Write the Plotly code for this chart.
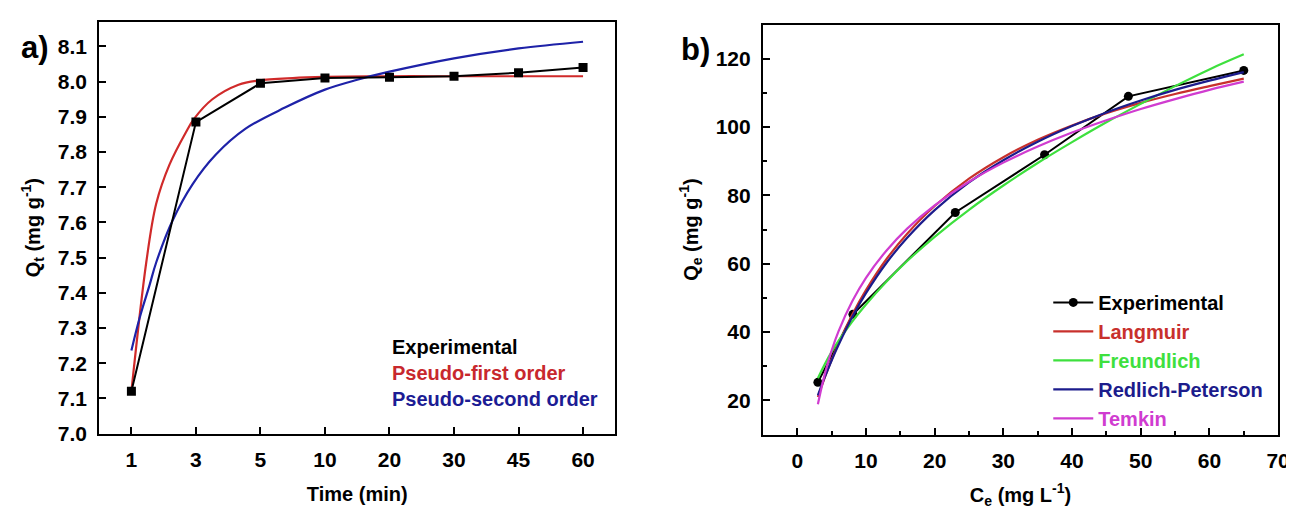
import plotly.graph_objects as go

# ---------------- Panel a) kinetics ----------------
time_labels = ["1", "3", "5", "10", "20", "30", "45", "60"]
time_pos = [0, 1, 2, 3, 4, 5, 6, 7]
exp_qt = [7.12, 7.885, 7.995, 8.01, 8.012, 8.015, 8.025, 8.04]

pfo_pos = [0, 0.23, 0.384, 0.59, 0.845, 0.97, 1.25, 1.66, 1.97, 2.5, 3.0, 4.0, 5.0, 6.0, 7.0]
pfo_qt = [7.12, 7.486, 7.653, 7.764, 7.856, 7.894, 7.949, 7.991, 8.003, 8.010, 8.013, 8.015, 8.015, 8.015, 8.015]

pso_pos = [0, 0.128, 0.28, 0.384, 0.64, 0.947, 1.306, 1.77, 2.38, 3.0, 3.5, 4.0, 5.0, 6.0, 7.0]
pso_qt = [7.236, 7.329, 7.421, 7.486, 7.606, 7.708, 7.792, 7.866, 7.926, 7.977, 8.005, 8.028, 8.066, 8.094, 8.113]

# ---------------- Panel b) isotherms ----------------
exp_ce = [3.0, 8.1, 23.0, 36.0, 48.2, 65.0]
exp_qe = [25.3, 45.2, 75.0, 91.9, 109.0, 116.6]

fit_ce = [3, 4, 5, 6, 8, 10, 13, 16, 20, 25, 30, 35, 40, 45, 50, 55, 60, 65]
langmuir_qe = [21.0, 26.7, 31.9, 36.7, 45.1, 52.3, 61.4, 68.8, 76.9, 84.9, 91.2, 96.3, 100.5, 104.1, 107.1, 109.7, 112.0, 114.2]
freundlich_qe = [26.5, 30.6, 34.2, 37.4, 43.1, 48.1, 54.8, 60.8, 67.9, 75.8, 82.9, 89.5, 95.6, 101.4, 106.8, 112.0, 116.9, 121.3]
redlich_qe = [21.5, 26.8, 31.7, 36.2, 44.4, 51.4, 60.3, 67.6, 75.7, 83.8, 90.3, 95.7, 100.3, 104.3, 107.8, 110.9, 113.6, 116.1]
temkin_qe = [18.9, 27.7, 34.6, 40.2, 49.0, 55.9, 63.9, 70.3, 77.1, 84.0, 89.6, 94.3, 98.4, 102.0, 105.3, 108.2, 110.9, 113.3]

FONT = "Liberation Sans, Arial, sans-serif"
RED_A = "#d02a2a"
BLUE_A = "#1e22a8"
C_LANG = "#c8302c"
C_FREU = "#3ee03e"
C_RP = "#1c1c8c"
C_TEM = "#d03cd0"

fig = go.Figure()

# panel a traces
fig.add_trace(go.Scatter(x=pfo_pos, y=pfo_qt, mode="lines", line=dict(color=RED_A, width=2.2, shape="spline"),
                         showlegend=False, xaxis="x", yaxis="y"))
fig.add_trace(go.Scatter(x=pso_pos, y=pso_qt, mode="lines", line=dict(color=BLUE_A, width=2.2, shape="spline"),
                         showlegend=False, xaxis="x", yaxis="y"))
fig.add_trace(go.Scatter(x=time_pos, y=exp_qt, mode="lines+markers", line=dict(color="black", width=2),
                         marker=dict(symbol="square", size=9, color="black"),
                         showlegend=False, xaxis="x", yaxis="y"))

# panel b traces
fig.add_trace(go.Scatter(x=exp_ce, y=exp_qe, mode="lines+markers", line=dict(color="black", width=2),
                         marker=dict(symbol="circle", size=9, color="black"),
                         name="<span style='color:black'>Experimental</span>", xaxis="x2", yaxis="y2"))
fig.add_trace(go.Scatter(x=fit_ce, y=langmuir_qe, mode="lines", line=dict(color=C_LANG, width=2.2, shape="spline"),
                         name=f"<span style='color:{C_LANG}'>Langmuir</span>", xaxis="x2", yaxis="y2"))
fig.add_trace(go.Scatter(x=fit_ce, y=freundlich_qe, mode="lines", line=dict(color=C_FREU, width=2.2, shape="spline"),
                         name=f"<span style='color:{C_FREU}'>Freundlich</span>", xaxis="x2", yaxis="y2"))
fig.add_trace(go.Scatter(x=fit_ce, y=redlich_qe, mode="lines", line=dict(color=C_RP, width=2.2, shape="spline"),
                         name=f"<span style='color:{C_RP}'>Redlich-Peterson</span>", xaxis="x2", yaxis="y2"))
fig.add_trace(go.Scatter(x=fit_ce, y=temkin_qe, mode="lines", line=dict(color=C_TEM, width=2.2, shape="spline"),
                         name=f"<span style='color:{C_TEM}'>Temkin</span>", xaxis="x2", yaxis="y2"))

W, H = 1294, 509
axis_common = dict(showline=True, linecolor="black", linewidth=2, mirror=True, ticks="inside",
                   tickcolor="black", tickwidth=2, ticklen=7, showgrid=False, zeroline=False,
                   tickfont=dict(family=FONT, size=21, color="black", weight="bold"),
                   ticklabelstandoff=6)
title_font = dict(family=FONT, size=20, color="black", weight="bold")

fig.update_layout(
    width=W, height=H,
    margin=dict(l=0, r=0, t=0, b=0),
    paper_bgcolor="white", plot_bgcolor="white",
    xaxis=dict(domain=[92 / W, 613 / W], range=[-0.5, 7.5], tickvals=time_pos, ticktext=time_labels,
               title=dict(text="Time (min)", font=title_font, standoff=17), anchor="y", **axis_common),
    yaxis=dict(domain=[1 - 435 / H, 1 - 14 / H], range=[7.0, 8.17], dtick=0.1, tickformat=".1f",
               title=dict(text="Q<sub>t</sub> (mg g<sup>-1</sup>)", font=title_font, standoff=12), anchor="x",
               **axis_common),
    xaxis2=dict(domain=[762 / W, 1282 / W], range=[-5, 70], dtick=10,
                minor=dict(dtick=5, ticks="inside", ticklen=4, tickcolor="black", tickwidth=2),
                title=dict(text="C<sub>e</sub> (mg L<sup>-1</sup>)", font=title_font, standoff=17), anchor="y2",
                **axis_common),
    yaxis2=dict(domain=[1 - 436 / H, 1 - 17 / H], range=[10, 130], dtick=20,
                minor=dict(dtick=10, ticks="inside", ticklen=4, tickcolor="black", tickwidth=2),
                title=dict(text="Q<sub>e</sub> (mg g<sup>-1</sup>)", font=title_font, standoff=12), anchor="x2",
                **axis_common),
    legend=dict(x=1050 / W, y=1 - 281 / H, xanchor="left", yanchor="top", bgcolor="rgba(0,0,0,0)",
                font=dict(family=FONT, size=20, color="black", weight="bold"), tracegroupgap=0,
                itemwidth=40),
    showlegend=True,
)

ann_font = dict(family=FONT, size=20, weight="bold")
fig.add_annotation(x=386 / W, y=1 - 346 / H, xref="paper", yref="paper", xanchor="left", yanchor="middle",
                   text="Experimental", showarrow=False, font=dict(color="black", **ann_font))
fig.add_annotation(x=386 / W, y=1 - 373 / H, xref="paper", yref="paper", xanchor="left", yanchor="middle",
                   text="Pseudo-first order", showarrow=False, font=dict(color="#c8282d", **ann_font))
fig.add_annotation(x=386 / W, y=1 - 400 / H, xref="paper", yref="paper", xanchor="left", yanchor="middle",
                   text="Pseudo-second order", showarrow=False, font=dict(color="#1c1c94", **ann_font))

fig.add_annotation(x=27 / W, y=1 - 40 / H, xref="paper", yref="paper", xanchor="center", yanchor="middle",
                   text="a)", showarrow=False, font=dict(family=FONT, size=31, color="black", weight="bold"))
fig.add_annotation(x=694 / W, y=1 - 42 / H, xref="paper", yref="paper", xanchor="center", yanchor="middle",
                   text="b)", showarrow=False, font=dict(family=FONT, size=31, color="black", weight="bold"))

fig.write_html("out.html")
